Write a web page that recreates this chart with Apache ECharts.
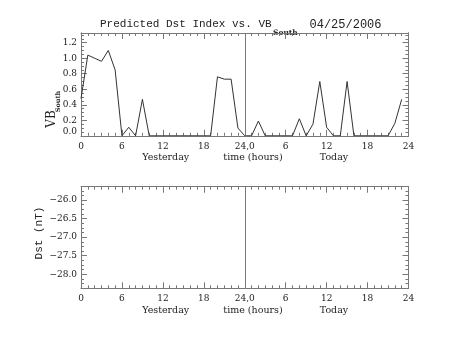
<!DOCTYPE html>
<html><head><meta charset="utf-8">
<script src="https://cdn.jsdelivr.net/npm/echarts@6/dist/echarts.min.js"></script>
<style>html,body{margin:0;padding:0;background:#fff;}#c{width:453px;height:340px;}</style>
</head><body><div id="c"></div>
<script>
// ---- data ----
const hours = [0,1,2,3,4,5,6,7,8,9,10,11,12,13,14,15,16,17,18,19,20,21,22,23,
               24,25,26,27,28,29,30,31,32,33,34,35,36,37,38,39,40,41,42,43,44,45,46,47];
const vbSouth = [0.48,1.04,1.00,0.96,1.10,0.85,0.00,0.11,0.00,0.47,0.00,0.00,0.00,0.00,0.00,0.00,0.00,0.00,0.00,0.00,
                 0.76,0.73,0.73,0.10,0.00,0.00,0.19,0.00,0.00,0.00,0.00,0.00,0.22,0.00,0.15,0.70,0.11,0.00,0.00,0.70,
                 0.00,0.00,0.00,0.00,0.00,0.00,0.16,0.47];
const dstValues = [];
const xTickLabels = ['0','6','12','18','24,0','6','12','18','24'];
const yTopTicks = [0,0.2,0.4,0.6,0.8,1.0,1.2];
const yTopMinor = [0.05,0.1,0.15,0.25,0.3,0.35,0.45,0.5,0.55,0.65,0.7,0.75,0.85,0.9,0.95,1.05,1.1,1.15,1.25,1.3];
const yBotTicks = [-28,-27.5,-27,-26.5,-26];
const yBotMinor = [-28.375,-28.25,-28.125,-27.875,-27.75,-27.625,-27.375,-27.25,-27.125,-26.875,-26.75,-26.625,
                   -26.375,-26.25,-26.125,-25.875,-25.75];
const titleText = 'Predicted Dst Index vs. VB';
const titleSub = 'South';
const dateText = '04/25/2006';

// ---- styling ----
const AX = '#777', TXT = '#222', LINE = '#333';
const SERIF = 'DejaVu Serif', MONO = 'Liberation Mono';

function xAx(grid, pos, labels) {
  return {
    type: 'value', gridIndex: grid, position: pos, min: 0, max: 48, interval: 6,
    axisLine: {show: true, onZero: false, lineStyle: {color: AX, width: 1}},
    axisTick: {show: true, inside: true, length: 6, lineStyle: {color: AX, width: 1}},
    minorTick: {show: true, splitNumber: 6, length: 3, lineStyle: {color: AX, width: 1}},
    splitLine: {show: false}, minorSplitLine: {show: false},
    axisLabel: {show: labels, margin: 6, fontFamily: SERIF, fontSize: 9, color: TXT,
      formatter: v => xTickLabels[Math.round(v / 6)]}
  };
}
function yAx(grid, pos, min, max, vals, len, labels, fmt) {
  return {
    type: 'value', gridIndex: grid, position: pos, min: min, max: max,
    axisLine: {show: true, onZero: false, lineStyle: {color: AX, width: 1}},
    axisTick: {show: true, inside: true, length: len, customValues: vals, lineStyle: {color: AX, width: 1}},
    splitLine: {show: false},
    axisLabel: {show: labels, customValues: vals, margin: 4, fontFamily: SERIF, fontSize: 9, color: TXT,
      formatter: fmt,
      rich: {z: {fontFamily: SERIF, fontSize: 9, color: TXT, padding: [0, 0, 8, 0]}}}
  };
}
const topFmt = v => (Math.abs(v) < 1e-9 ? '{z|0.0}' : v.toFixed(1));
const botFmt = v => v.toFixed(1).replace('-', '\u2212');
const TOPMIN = 0, TOPMAX = 1.325, BOTMIN = -28.38, BOTMAX = -25.64;

const chart = echarts.init(document.getElementById('c'), null, {renderer: 'canvas'});
const markV = {
  silent: true, symbol: ['none', 'none'], label: {show: false},
  lineStyle: {color: AX, type: 'solid', width: 1}, emphasis: {disabled: true},
  data: [{xAxis: 24}]
};
function txt(x, y, text, size, family, rot, align, weight) {
  const a = align || 'center';
  return {type: 'text', x: x, y: y, rotation: rot || 0, silent: true,
    style: {text: text, fontSize: size, fontFamily: family, fill: TXT, fontWeight: weight || 'normal',
      align: a, verticalAlign: 'middle', textAlign: a, textVerticalAlign: 'middle'}};
}
chart.setOption({
  animation: false,
  backgroundColor: '#fff',
  grid: [
    {left: 81, top: 33, width: 327.5, height: 102.8},
    {left: 81, top: 186.7, width: 327.5, height: 101.6}
  ],
  xAxis: [xAx(0, 'bottom', true), xAx(0, 'top', false), xAx(1, 'bottom', true), xAx(1, 'top', false)],
  yAxis: [
    yAx(0, 'left', TOPMIN, TOPMAX, yTopTicks, 6, true, topFmt),
    yAx(0, 'left', TOPMIN, TOPMAX, yTopMinor, 3, false, topFmt),
    yAx(0, 'right', TOPMIN, TOPMAX, yTopTicks, 6, false, topFmt),
    yAx(0, 'right', TOPMIN, TOPMAX, yTopMinor, 3, false, topFmt),
    yAx(1, 'left', BOTMIN, BOTMAX, yBotTicks, 6, true, botFmt),
    yAx(1, 'left', BOTMIN, BOTMAX, yBotMinor, 3, false, botFmt),
    yAx(1, 'right', BOTMIN, BOTMAX, yBotTicks, 6, false, botFmt),
    yAx(1, 'right', BOTMIN, BOTMAX, yBotMinor, 3, false, botFmt)
  ],
  series: [
    {type: 'line', xAxisIndex: 0, yAxisIndex: 0, symbol: 'none', silent: true,
     lineStyle: {color: LINE, width: 1}, data: hours.map((h, i) => [h, vbSouth[i]]), markLine: markV},
    {type: 'line', xAxisIndex: 2, yAxisIndex: 4, symbol: 'none', silent: true,
     lineStyle: {color: LINE, width: 1}, data: dstValues, markLine: markV}
  ],
  graphic: [
    txt(100, 24.5, titleText, 11, MONO, 0, 'left'),
    txt(273, 33.5, titleSub, 7.5, SERIF, 0, 'left', 'bold'),
    txt(345.5, 24.5, dateText, 12, MONO),
    txt(165.7, 158, 'Yesterday', 9.5, SERIF),
    txt(253, 158, 'time (hours)', 9.5, SERIF),
    txt(334, 158, 'Today', 9.5, SERIF),
    txt(165.7, 310.5, 'Yesterday', 9.5, SERIF),
    txt(253, 310.5, 'time (hours)', 9.5, SERIF),
    txt(334, 310.5, 'Today', 9.5, SERIF),
    txt(51.5, 119, 'VB', 12, SERIF, Math.PI / 2),
    txt(58.5, 101.5, 'South', 6.5, SERIF, Math.PI / 2, 'center', 'bold'),
    txt(39, 233, 'Dst (nT)', 11, MONO, Math.PI / 2)
  ]
});
</script>
</body></html>
